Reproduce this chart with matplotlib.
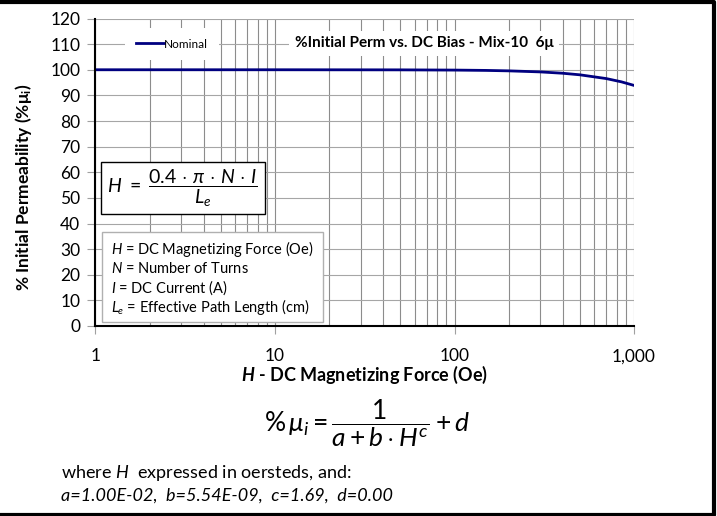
import matplotlib
matplotlib.use("Agg")
import matplotlib.pyplot as plt
from matplotlib.patches import Rectangle
from matplotlib.lines import Line2D
from matplotlib.ticker import FixedLocator, NullFormatter

# values (Nominal curve)
H_OE = [1, 10, 50, 100, 150, 200, 300, 400, 500, 700, 850, 1000]
PERM = [100.0, 100.0, 99.96, 99.87, 99.74, 99.57, 99.16, 98.64, 98.02, 96.56, 95.29, 93.89]
Y_TICKS = [0, 10, 20, 30, 40, 50, 60, 70, 80, 90, 100, 110, 120]
X_TICKS = [1, 10, 100, 1000]
X_LABELS = ["1", "10", "100", "1,000"]
SERIES = "Nominal"
TITLE = "%Initial Perm vs. DC Bias - Mix-10  6\u03bc"
DEFS = [r"$\it{H}$ = DC Magnetizing Force (Oe)",
        r"$\it{N}$ = Number of Turns",
        r"$\it{I}$ = DC Current (A)",
        r"$\it{L_e}$ = Effective Path Length (cm)"]
COEFS = "a=1.00E-02,  b=5.54E-09,  c=1.69,  d=0.00"

plt.rcParams["font.family"] = ["Lato", "DejaVu Sans"]
plt.rcParams["mathtext.fontset"] = "custom"
plt.rcParams["mathtext.rm"] = "Lato"
plt.rcParams["mathtext.it"] = "Lato:italic"
plt.rcParams["mathtext.bf"] = "Lato:bold"
plt.rcParams["mathtext.bfit"] = "Lato:italic:bold"

W, Hpx = 717, 516
fig = plt.figure(figsize=(W / 100, Hpx / 100), dpi=100)


def fx(x):
    return x / W


def fy(y):
    return 1 - y / Hpx


ax = fig.add_axes([fx(95.5), fy(326), fx(634) - fx(95.5), fy(18.5) - fy(326)])
ax.set_xscale("log")
ax.set_xlim(1, 1000)
ax.set_ylim(0, 120)

ax.plot(H_OE, PERM, color="#000080", lw=2.0, label=SERIES, zorder=4)

ax.set_yticks(Y_TICKS)
ax.set_xticks(X_TICKS)
ax.set_xticklabels(X_LABELS)
ax.xaxis.set_minor_locator(FixedLocator([m * d for d in (1, 10, 100) for m in range(2, 10)]))
ax.xaxis.set_minor_formatter(NullFormatter())
ax.tick_params(axis="x", which="major", length=6, color="#a0a0a0", pad=10, labelsize=12.5)
ax.tick_params(axis="x", which="minor", length=0)
ax.tick_params(axis="y", which="major", length=6, color="#a0a0a0", pad=5, labelsize=12.5)

ax.grid(True, axis="x", which="both", color="#8c8c8c", lw=0.8)
ax.grid(True, axis="y", which="major", color="#a6a6a6", lw=0.8)
for s in ("top", "right"):
    ax.spines[s].set_visible(False)
for s in ("left", "bottom"):
    ax.spines[s].set_linewidth(1.5)
    ax.spines[s].set_zorder(5)

ax.set_ylabel(r"% Initial Permeability (%$\mathbf{\mu_i}$)", fontsize=12.5, fontweight="bold")
ax.yaxis.set_label_coords(-0.115, 0.45)
ax.set_xlabel(r"$\mathbfit{H}$ - DC Magnetizing Force (Oe)", fontsize=13, fontweight="bold", labelpad=0)

leg = ax.legend(loc="center", bbox_to_anchor=(fx(172), fy(44)), bbox_transform=fig.transFigure,
                fontsize=8.5, handlelength=2.4, handletextpad=0.0, borderpad=0.9,
                frameon=True, fancybox=False)
leg.get_frame().set_edgecolor("none")
leg.get_frame().set_facecolor("white")
leg.get_frame().set_alpha(1)

fig.text(fx(424), fy(43), TITLE, fontsize=11, fontweight="bold", ha="center", va="center",
         bbox=dict(facecolor="white", edgecolor="none", pad=4), zorder=6)

# H formula box
fig.add_artist(Rectangle((fx(101), fy(214)), fx(265) - fx(101), fy(162) - fy(214),
                         transform=fig.transFigure, facecolor="white", edgecolor="black", lw=1.0, zorder=6))
fig.text(fx(182), fy(188), r"$H\ =\ \dfrac{0.4\,\cdot\,\pi\,\cdot\,N\,\cdot\,I}{L_e}$", fontsize=14,
         ha="center", va="center", zorder=7)

# definitions box
fig.add_artist(Rectangle((fx(102), fy(322)), fx(323) - fx(102), fy(232) - fy(322),
                         transform=fig.transFigure, facecolor="white", edgecolor="#b0b0b0", lw=1.0, zorder=6))
for i, t in enumerate(DEFS):
    fig.text(fx(111), fy(249 + i * 19.3), t, fontsize=10.5, ha="left", va="center", zorder=7)

# equation below
fig.text(fx(367), fy(423), r"$\%\,\mu_i = \dfrac{1}{a + b\cdot H^{c}} + d$", fontsize=19,
         ha="center", va="center")
fig.text(fx(61), fy(473), r"where $\it{H}$  expressed in oersteds, and:", fontsize=13,
         ha="left", va="center")
fig.text(fx(61), fy(496), COEFS, fontsize=13, style="italic", ha="left", va="center")

# page frame (top, right, bottom)
fig.add_artist(Line2D([0, fx(714), fx(714), 0], [fy(1.5), fy(1.5), fy(514.5), fy(514.5)],
                      transform=fig.transFigure, color="black", lw=3.0, zorder=10))

fig.savefig("out.png", dpi=100)
